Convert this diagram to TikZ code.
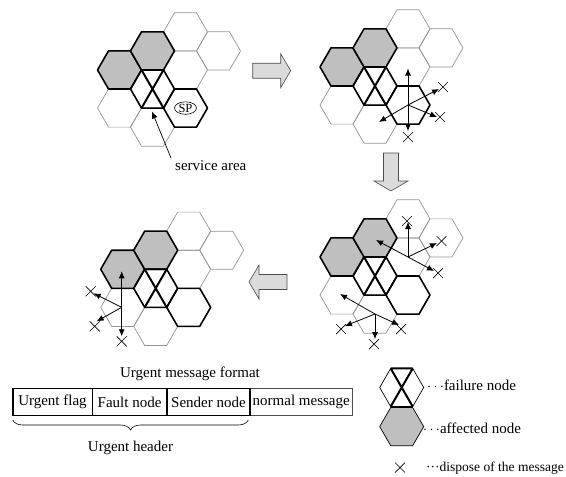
\documentclass[tikz,border=0pt]{standalone}
\usepackage{fontspec}
\setmainfont{Liberation Serif}
\usetikzlibrary{arrows.meta,decorations.pathreplacing,shapes.geometric}

\definecolor{affgray}{gray}{0.75}
\definecolor{arrowgray}{gray}{0.86}
\definecolor{cellgray}{gray}{0.58}

\tikzset{
  thinhex/.style={draw=cellgray, line width=0.7pt},
  thickhex/.style={draw=black, line width=1.6pt, line join=round},
  failx/.style={draw=black, line width=2pt},
  msg/.style={draw=black, line width=0.8pt, -{Latex[length=7pt,width=6pt]}},
  xmark/.style={draw=black, line width=0.7pt},
  bigarrow/.style={draw=black!70, fill=arrowgray, line width=0.6pt},
  lbl/.style={font=\fontsize{15}{17}\selectfont, inner sep=0pt},
  cell/.style={draw=black, line width=0.6pt, minimum height=26.7pt, inner sep=0pt,
    anchor=north west, font=\fontsize{15}{17}\selectfont},
}

% one flat-topped hexagon cell of radius 22 around a centre
\newcommand\hexcell[2]{\path[#1] (#2) +(0:22) -- +(60:22) -- +(120:22) -- +(180:22)
  -- +(240:22) -- +(300:22) -- cycle;}

% the nine cells around the failed node (failed node at the scope origin)
\newcommand\basegrid{%
  \foreach \i/\j in {1/-3,2/-2,1/-1,-1/1,0/2}{\hexcell{thinhex}{\i*33,\j*19.05}}
  \hexcell{thickhex,fill=affgray}{-33,-19.05}
  \hexcell{thickhex,fill=affgray}{0,-38.1}
  \hexcell{thickhex}{33,19.05}
  \hexcell{thickhex}{0,0}
  \path[failx] (60:22) -- (240:22) (120:22) -- (300:22);
}

% a discarded message
\newcommand\discard[1]{\path[xmark] (#1) +(-5,-5) -- +(5,5) +(-5,5) -- +(5,-5);}

% block arrow between the steps
\newcommand\steparrow[2]{\path[bigarrow, shift={(#1)}, rotate=#2]
  (0,-7.5) -- (28,-7.5) -- (28,-17) -- (38,0) -- (28,17) -- (28,7.5) -- (0,7.5) -- cycle;}

\begin{document}
\begin{tikzpicture}[x=1pt,y=-1pt]
\useasboundingbox (0,0) rectangle (566,477);

% ---- step 1: failure detected, service area ----
\begin{scope}[shift={(152.5,89)}, name prefix=a-]
  \basegrid
  \node[draw, ellipse, line width=0.6pt, inner sep=0pt, minimum width=22pt,
    minimum height=12.5pt, font=\fontsize{12.5}{12.5}\selectfont] (sp) at (33,19.05) {SP};
  \coordinate (area) at (-0.5,22.5);
\end{scope}
\node[lbl, anchor=base west] (salbl) at (175,170) {service area};
\coordinate (satail) at (171,158);
\draw[msg, line width=0.7pt] (satail) -- (a-area);

% ---- step 2: SP broadcasts ----
\begin{scope}[shift={(375,86)}, name prefix=b-]
  \basegrid
  \coordinate (src) at (33,19);
  \coordinate (up) at (33,-17.5);
  \coordinate (dn) at (33,45);
  \coordinate (ur) at (64,3);
  \coordinate (lr) at (62,31);
  \coordinate (ll) at (4,36);
  \coordinate (xdn) at (33,51);
  \coordinate (xur) at (68,1);
  \coordinate (xlr) at (65,31);
  \foreach \t in {up,dn,ur,lr,ll}{\draw[msg] (src) -- (\t);}
  \foreach \t in {xdn,xur,xlr}{\discard{\t}}
\end{scope}

% ---- step 3: neighbours forward ----
\begin{scope}[shift={(375,276)}, name prefix=c-]
  \basegrid
  \coordinate (srcA) at (33,-19);
  \coordinate (aup) at (33,-54);
  \coordinate (aur) at (62,-33);
  \coordinate (alr) at (59,-5);
  \coordinate (aul) at (1,-36);
  \coordinate (xaup) at (32,-55);
  \coordinate (xaur) at (66.5,-35);
  \coordinate (xalr) at (63,-3);
  \coordinate (srcB) at (0,38);
  \coordinate (bdn) at (0,63);
  \coordinate (bll) at (-30,50);
  \coordinate (bul) at (-35,18);
  \coordinate (blr) at (24,49);
  \coordinate (xbdn) at (-1,68);
  \coordinate (xbll) at (-34,53);
  \coordinate (xblr) at (26,53);
  \foreach \t in {aup,aur,alr,aul}{\draw[msg] (srcA) -- (\t);}
  \foreach \t in {bdn,bll,bul,blr}{\draw[msg] (srcB) -- (\t);}
  \foreach \t in {xaup,xaur,xalr,xbdn,xbll,xblr}{\discard{\t}}
\end{scope}

% ---- step 4: last forwarding ----
\begin{scope}[shift={(155.7,288.3)}, name prefix=d-]
  \basegrid
  \coordinate (src) at (-34,19);
  \coordinate (up) at (-34,-17);
  \coordinate (dn) at (-34,48);
  \coordinate (ul) at (-62,5);
  \coordinate (ll) at (-59,33);
  \coordinate (xdn) at (-34,53);
  \coordinate (xul) at (-65,3);
  \coordinate (xll) at (-61,38);
  \foreach \t in {up,dn,ul,ll}{\draw[msg] (src) -- (\t);}
  \foreach \t in {xdn,xul,xll}{\discard{\t}}
\end{scope}

% ---- step arrows ----
\steparrow{252.7,70.7}{0}
\steparrow{391,153}{-90}
\steparrow{287,282}{180}

% ---- message format ----
\node[lbl] (fmt) at (190,374) {Urgent message format};
\node[cell, minimum width=79pt] (flag) at (12.7,388.3) {Urgent flag};
\node[cell, minimum width=74pt] (fault) at (flag.north east) {Fault node};
\node[cell, minimum width=82.6pt] (sender) at (fault.north east) {Sender node};
\node[cell, minimum width=101.7pt, draw=black!70] (normal) at (sender.north east) {normal message};
\draw[line width=1.6pt] (flag.north west) rectangle (sender.south east);
\draw[decorate, decoration={brace, mirror, amplitude=10pt}, line width=0.6pt]
  (12.7,420) -- (248.3,420);
\node[lbl] (hdr) at (130.5,448) {Urgent header};

% ---- legend ----
\begin{scope}[shift={(401.7,387.5)}]
  \hexcell{draw=black, line width=0.7pt}{0,0}
  \path[failx] (60:22) -- (240:22) (120:22) -- (300:22) (240:22) -- (300:22);
\end{scope}
\hexcell{draw=black, line width=0.7pt, fill=affgray}{401.7,426.6}
\node[lbl, anchor=base west] (lfail) at (427,390) {$\cdots$failure node};
\node[lbl, anchor=base west] (laff) at (423,433) {$\cdots$affected node};
\coordinate (lx) at (400,467.5);
\discard{lx}
\node[anchor=base west, inner sep=0pt, font=\fontsize{13.5}{15}\selectfont] (ldisp) at (426,471.5) {···dispose of the message};
\end{tikzpicture}
\end{document}
